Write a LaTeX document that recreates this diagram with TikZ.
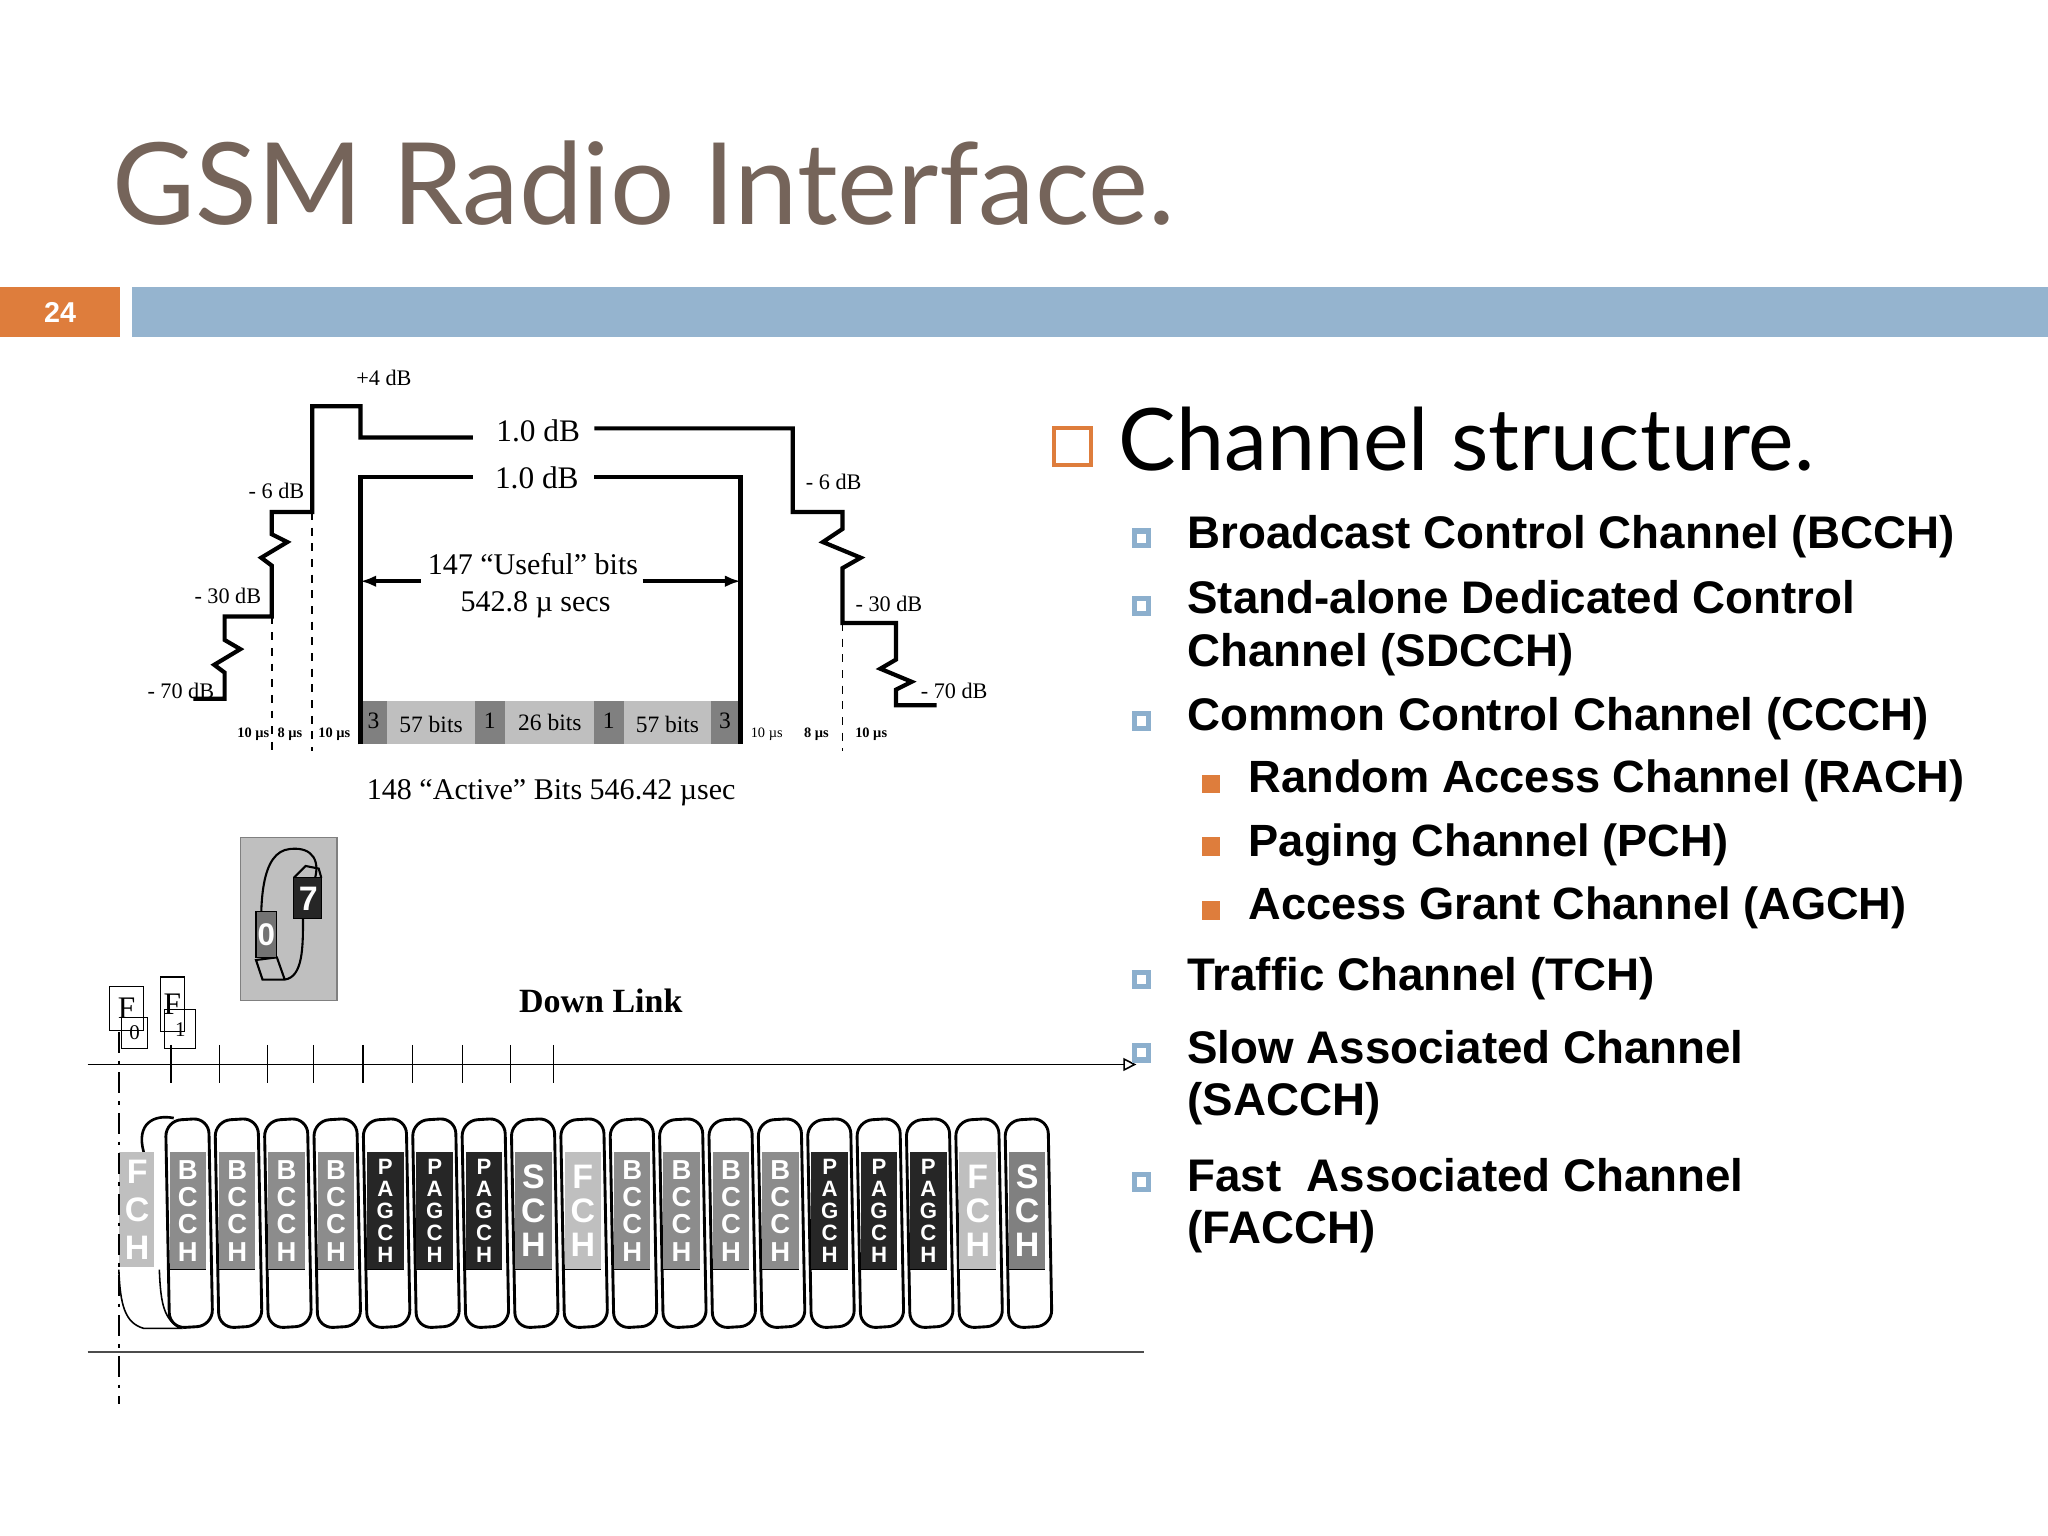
\documentclass[tikz,border=0pt]{standalone}
\usepackage{fontspec}
\setmainfont{Liberation Serif}
\newfontfamily\ttl{Lato}
\newfontfamily\sans{Liberation Sans}
\usetikzlibrary{arrows.meta}
\definecolor{ttlc}{RGB}{117,100,90}
\definecolor{barblue}{RGB}{149,180,207}
\definecolor{orng}{RGB}{222,125,60}
\definecolor{bulblue}{RGB}{140,175,205}
\tikzset{
 mask/.style={line width=1.6pt},
 tiny/.style={font=\fontsize{5.5}{6}\selectfont\bfseries},
 db/.style={font=\fontsize{8.5}{9}\selectfont},
 lvl1/.style={anchor=west,font=\sans\bfseries\fontsize{17.5}{20}\selectfont,align=left},
 lvl2/.style={anchor=west,font=\sans\bfseries\fontsize{17.3}{19}\selectfont},
 b1/.style={draw=bulblue,line width=2pt,minimum size=5.5pt,inner sep=0pt},
 b2/.style={fill=orng,minimum size=7pt,inner sep=0pt},
 dk/.style={fill=black!50},
 lt/.style={fill=black!25},
}
\newcommand{\strip}[4]{%
 \filldraw[fill=white,line width=1.1pt,rounded corners=6pt] (#1-17,858) -- (#1+16,856) -- (#1+19,1015) -- (#1-14,1017) -- cycle;
 \fill[#2] (#1-14,882) rectangle (#1+14,972);
 \draw[line width=0.5pt] (#1-14,972) -- (#1+14,972);
 \node[text=white,font=\sans\bfseries\fontsize{#4}{#4}\selectfont,align=center,inner sep=0pt] at (#1,927) {#3};}
\begin{document}
\begin{tikzpicture}[x=0.5pt,y=-0.5pt]
\useasboundingbox (0,0) rectangle (1568,1176);
\fill[white] (0,0) rectangle (1568,1176);
% header
\node[anchor=base west,text=ttlc,font=\ttl\fontsize{43.5}{48}\selectfont,inner sep=0pt] (title) at (86,172) {GSM Radio Interface.};
\fill[orng] (0,220) rectangle (92,258);
\node[text=white,font=\sans\bfseries\fontsize{11}{12}\selectfont] (pg) at (46,239) {24};
\fill[barblue] (101,220) rectangle (1568,258);
% burst mask
\draw[mask] (148,535) -- (172,535) -- (172,515) -- (164,509) -- (184,497) -- (172,490) -- (172,472)
 -- (208,472) -- (208,433) -- (200,427) -- (220,415) -- (208,409) -- (208,392)
 -- (239,392) -- (239,311) -- (276,311) -- (276,335) -- (362,335);
\draw[mask] (455,328) -- (607,328) -- (607,392) -- (645,392) -- (645,405) -- (630,415) -- (659,427) -- (645,435) -- (645,477)
 -- (686,477) -- (686,505) -- (674,512) -- (698,522) -- (686,528) -- (686,540) -- (717,540);
\draw[mask] (276,570) -- (276,365) -- (362,365);
\draw[mask] (455,365) -- (567,365) -- (567,570);
\node[font=\fontsize{12}{13}\selectfont] (d1) at (412,330) {1.0 dB};
\node[font=\fontsize{12}{13}\selectfont] (d2) at (411,366) {1.0 dB};
\node[db] (p4) at (294,289) {+4 dB};
\node[db,anchor=east] (m6l) at (240,376) {- 6 dB};
\node[db,anchor=east] (m30l) at (207,456) {- 30 dB};
\node[db,anchor=east] (m70l) at (171,529) {- 70 dB};
\node[db,anchor=west] (m6r) at (610,369) {- 6 dB};
\node[db,anchor=west] (m30r) at (648,462) {- 30 dB};
\node[db,anchor=west] (m70r) at (698,529) {- 70 dB};
\draw[dashed,line width=0.7pt] (208,472) -- (208,575) (239,392) -- (239,575) (645,477) -- (645,575);
\coordinate (al) at (276,445); \coordinate (ar) at (567,445);
\draw[line width=1.4pt,-{Latex[length=6pt]}] (322,445) -- (al);
\draw[line width=1.4pt,-{Latex[length=6pt]}] (492,445) -- (ar);
\node[font=\fontsize{11.5}{12}\selectfont] (useful) at (408,432) {147 “Useful” bits};
\node[font=\fontsize{11.5}{12}\selectfont] (usec) at (410,463) {542.8 µ secs};
% bits bar
\fill[dk] (276,537) rectangle (296,570); \fill[lt] (296,537) rectangle (364,570);
\fill[dk] (364,537) rectangle (387,570); \fill[lt] (387,537) rectangle (455,570);
\fill[dk] (455,537) rectangle (478,570); \fill[lt] (478,537) rectangle (544,570);
\fill[dk] (544,537) rectangle (567,570);
\draw[mask] (276,537) -- (276,570) (567,537) -- (567,570);
\foreach \x/\t/\yy in {286/3/552,330/57 bits/555,375/1/552,421/26 bits/553,466/1/552,511/57 bits/555,555/3/552}
 \node[font=\fontsize{9}{10}\selectfont] at (\x,\yy) {\t};
\foreach \x/\t in {194/10 µs,222/8 µs,256/10 µs,625/8 µs,667/10 µs}
 \node[tiny] at (\x,562) {\t};
\node[font=\fontsize{5.5}{6}\selectfont] at (587,562) {10 µs};
\node[font=\fontsize{11.5}{12}\selectfont] (active) at (422,607) {148 “Active” Bits 546.42 µsec};
% ring icon
\filldraw[fill=black!25,draw=black!50] (184,641) rectangle (258,766);
\draw[line width=0.8pt] (201,735) .. controls (198,690) and (200,652) .. (222,650) .. controls (240,648) and (246,660) .. (240,676);
\draw[line width=0.8pt] (232,703) .. controls (232,725) and (232,748) .. (218,750) -- (201,750) -- (196,735) -- (212,733) -- (218,750);
\draw[line width=0.8pt] (225,672) -- (234,663) -- (244,665) -- (246,672);
\filldraw[fill=black!55,draw=black] (196,698) rectangle (212,733);
\filldraw[fill=black!85,draw=black] (225,672) rectangle (246,703);
\node[text=white,font=\sans\bfseries\fontsize{12}{12}\selectfont] (r0) at (204,716) {0};
\node[text=white,font=\sans\bfseries\fontsize{13}{13}\selectfont] (r7) at (236,688) {7};
% frame labels
\node[draw,minimum width=13pt,minimum height=17pt,inner sep=0pt,font=\fontsize{12}{12}\selectfont] (F0) at (97,772) {F};
\node[draw,minimum width=10pt,minimum height=12pt,inner sep=0pt,font=\fontsize{8}{8}\selectfont] (n0) at (103,791) {0};
\node[draw,minimum width=9pt,minimum height=21pt,inner sep=0pt,font=\fontsize{12}{12}\selectfont] (F1) at (132,769) {F};
\node[draw,minimum width=12pt,minimum height=15pt,inner sep=0pt,font=\fontsize{8}{8}\selectfont] (n1) at (138,788) {1};
\node[font=\bfseries\fontsize{13}{14}\selectfont] (dl) at (460,766) {Down Link};
% axis
\coordinate (axL) at (67,815); \coordinate (axR) at (870,815);
\draw[line width=0.6pt,-{Triangle[open,length=5pt,width=5pt]}] (axL) -- (axR);
\foreach \x in {131,168,205,240,278,316,354,391,424} \draw[line width=0.5pt] (\x,800) -- (\x,829);
\coordinate (btL) at (67,1035); \coordinate (btR) at (876,1035);
\draw[line width=0.6pt,black!70] (btL) -- (btR);
% strips
\filldraw[fill=white,line width=0.6pt] (91,972) .. controls (92,1000) and (96,1013) .. (110,1017) -- (138,1017) .. controls (126,1010) and (123,1000) .. (122,972);
\draw[line width=1pt] (110,882) .. controls (104,860) and (118,853) .. (133,856);
\fill[black!25] (91,882) rectangle (118,970);
\node[text=white,font=\sans\bfseries\fontsize{13}{14.5}\selectfont,align=center,inner sep=0pt] at (105,926) {F\\C\\H};
\foreach \i/\c/\t/\s in {1/black!45/{B\\C\\C\\H}/10.5,2/black!45/{B\\C\\C\\H}/10.5,3/black!45/{B\\C\\C\\H}/10.5,4/black!45/{B\\C\\C\\H}/10.5,
 5/black!85/{P\\A\\G\\C\\H}/8.5,6/black!85/{P\\A\\G\\C\\H}/8.5,7/black!85/{P\\A\\G\\C\\H}/8.5,8/black!50/{S\\C\\H}/13,
 9/black!25/{F\\C\\H}/13,10/black!45/{B\\C\\C\\H}/10.5,11/black!45/{B\\C\\C\\H}/10.5,12/black!45/{B\\C\\C\\H}/10.5,13/black!45/{B\\C\\C\\H}/10.5,
 14/black!85/{P\\A\\G\\C\\H}/8.5,15/black!85/{P\\A\\G\\C\\H}/8.5,16/black!85/{P\\A\\G\\C\\H}/8.5,17/black!25/{F\\C\\H}/13,18/black!50/{S\\C\\H}/13}
 {\pgfmathsetmacro{\cx}{106+37.8*\i}\strip{\cx}{\c}{\t}{\s}}
\draw[line width=1pt,dash pattern=on 8pt off 3pt on 1.5pt off 3pt] (91,790) -- (91,1075);
% right text
\node[draw=orng,line width=1.5pt,minimum size=14pt,inner sep=0pt] (cb) at (821,342) {};
\node[anchor=base west,font=\ttl\fontsize{33}{36}\selectfont,inner sep=0pt] (cs) at (856,360) {Channel structure.};
\foreach \y in {412,464,552,750,806,905} \node[b1] at (874,\y) {};
\foreach \y in {600,648,697} \node[b2] at (927,\y) {};
\node[lvl1] (t1) at (902,411) {Broadcast Control Channel (BCCH)};
\node[lvl1] (t2) at (902,481) {Stand-alone Dedicated Control\\Channel (SDCCH)};
\node[lvl1] (t3) at (902,550) {Common Control Channel (CCCH)};
\node[lvl2] (t4) at (949,598) {Random Access Channel (RACH)};
\node[lvl2] (t5) at (949,647) {Paging Channel (PCH)};
\node[lvl2] (t6) at (949,695) {Access Grant Channel (AGCH)};
\node[lvl1] (t7) at (902,749) {Traffic Channel (TCH)};
\node[lvl1] (t8) at (902,825) {Slow Associated Channel\\(SACCH)};
\node[lvl1] (t9) at (902,923) {Fast\ \ Associated Channel\\(FACCH)};
\end{tikzpicture}
\end{document}
